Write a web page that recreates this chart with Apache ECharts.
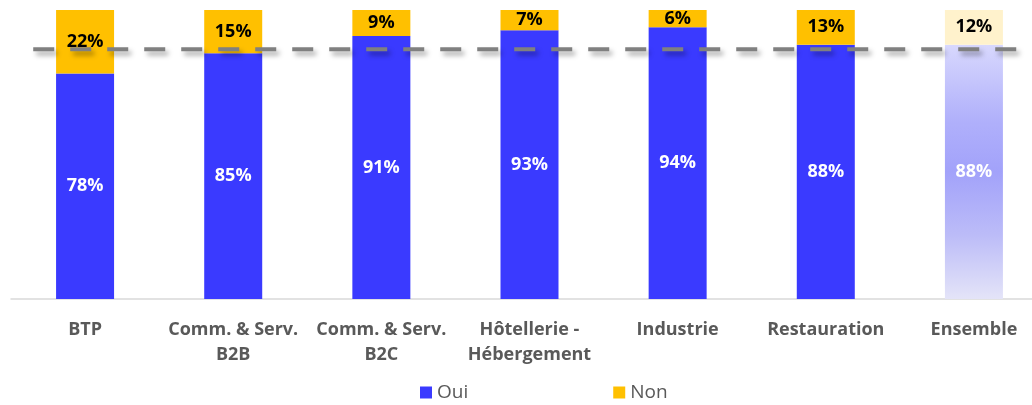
<!DOCTYPE html>
<html>
<head>
<meta charset="utf-8">
<script src="https://cdn.jsdelivr.net/npm/echarts@6/dist/echarts.min.js"></script>
<style>
  html, body { margin: 0; padding: 0; background: #ffffff; }
  #chart { width: 1032px; height: 405px; }
</style>
</head>
<body>
<div id="chart"></div>
<script>
// Categories and shares (percent)
const categories = ['BTP', 'Comm. & Serv.\nB2B', 'Comm. & Serv.\nB2C', 'Hôtellerie -\nHébergement', 'Industrie', 'Restauration', 'Ensemble'];
const oui = [78, 85, 91, 93, 94, 88, 88];
const non = [22, 15, 9, 7, 6, 13, 12];
// Dashed reference level and its horizontal extent (in category units)
const refLevel = 86.4;
const refSpan = [-0.35, 6.35];

const BLUE = '#3a3aff';
const YELLOW = '#ffc000';
const TEXT = '#595959';
const FONT = '"Open Sans", "Noto Sans", sans-serif';
const totalIndex = categories.length - 1;

const ouiData = oui.map((v, i) => i === totalIndex ? {
  value: v,
  itemStyle: {
    color: {
      type: 'linear', x: 0, y: 0, x2: 0, y2: 1,
      colorStops: [
        { offset: 0, color: '#d8d8fd' },
        { offset: 0.3, color: '#b0b0fb' },
        { offset: 0.5, color: '#a2a2fa' },
        { offset: 0.75, color: '#bcbcf8' },
        { offset: 1, color: '#e4e4f8' }
      ]
    }
  }
} : v);

const nonData = non.map((v, i) => i === totalIndex ? {
  value: v, itemStyle: { color: '#fff2cc' }
} : v);

const chart = echarts.init(document.getElementById('chart'), null, { renderer: 'canvas' });
chart.setOption({
  animation: false,
  backgroundColor: '#ffffff',
  // the plot runs a little past the right edge of the canvas
  grid: {
    left: 11, width: 1037, top: 10, bottom: 106,
    containLabel: false,
    outerBoundsMode: 'none'
  },
  legend: {
    data: ['Oui', 'Non'],
    bottom: -2,
    left: 415,
    icon: 'rect',
    itemWidth: 12,
    itemHeight: 12,
    itemGap: 145,
    textStyle: { color: TEXT, fontSize: 19, fontFamily: FONT }
  },
  xAxis: [{
    type: 'category',
    data: categories,
    axisLine: { lineStyle: { color: '#d9d9d9', width: 1.5 } },
    axisTick: { show: false },
    axisLabel: {
      interval: 0,
      margin: 18,
      color: TEXT,
      fontSize: 18,
      fontWeight: 'bold',
      fontFamily: FONT,
      lineHeight: 25
    }
  }, {
    type: 'value',
    min: -0.5,
    max: categories.length - 0.5,
    show: false
  }],
  yAxis: {
    type: 'value',
    min: 0,
    max: 100,
    show: false,
    splitLine: { show: false }
  },
  series: [{
    name: 'Oui',
    type: 'bar',
    stack: 'total',
    barWidth: 58,
    itemStyle: { color: BLUE },
    label: {
      show: true,
      position: 'inside',
      formatter: '{c}%',
      color: '#ffffff',
      fontSize: 18,
      fontWeight: 'bold',
      fontFamily: FONT
    },
    data: ouiData
  }, {
    name: 'Non',
    type: 'bar',
    stack: 'total',
    barWidth: 58,
    itemStyle: { color: YELLOW },
    label: {
      show: true,
      position: 'inside',
      formatter: '{c}%',
      color: '#000000',
      fontSize: 18,
      fontWeight: 'bold',
      fontFamily: FONT
    },
    data: nonData
  }, {
    name: 'Référence',
    type: 'line',
    xAxisIndex: 1,
    z: 10,
    symbol: 'none',
    silent: true,
    lineStyle: {
      color: '#808080',
      width: 4,
      type: [21, 16],
      shadowColor: 'rgba(0,0,0,0.35)',
      shadowBlur: 5,
      shadowOffsetX: 3,
      shadowOffsetY: 4
    },
    data: [[refSpan[0], refLevel], [refSpan[1], refLevel]]
  }]
});
</script>
</body>
</html>
